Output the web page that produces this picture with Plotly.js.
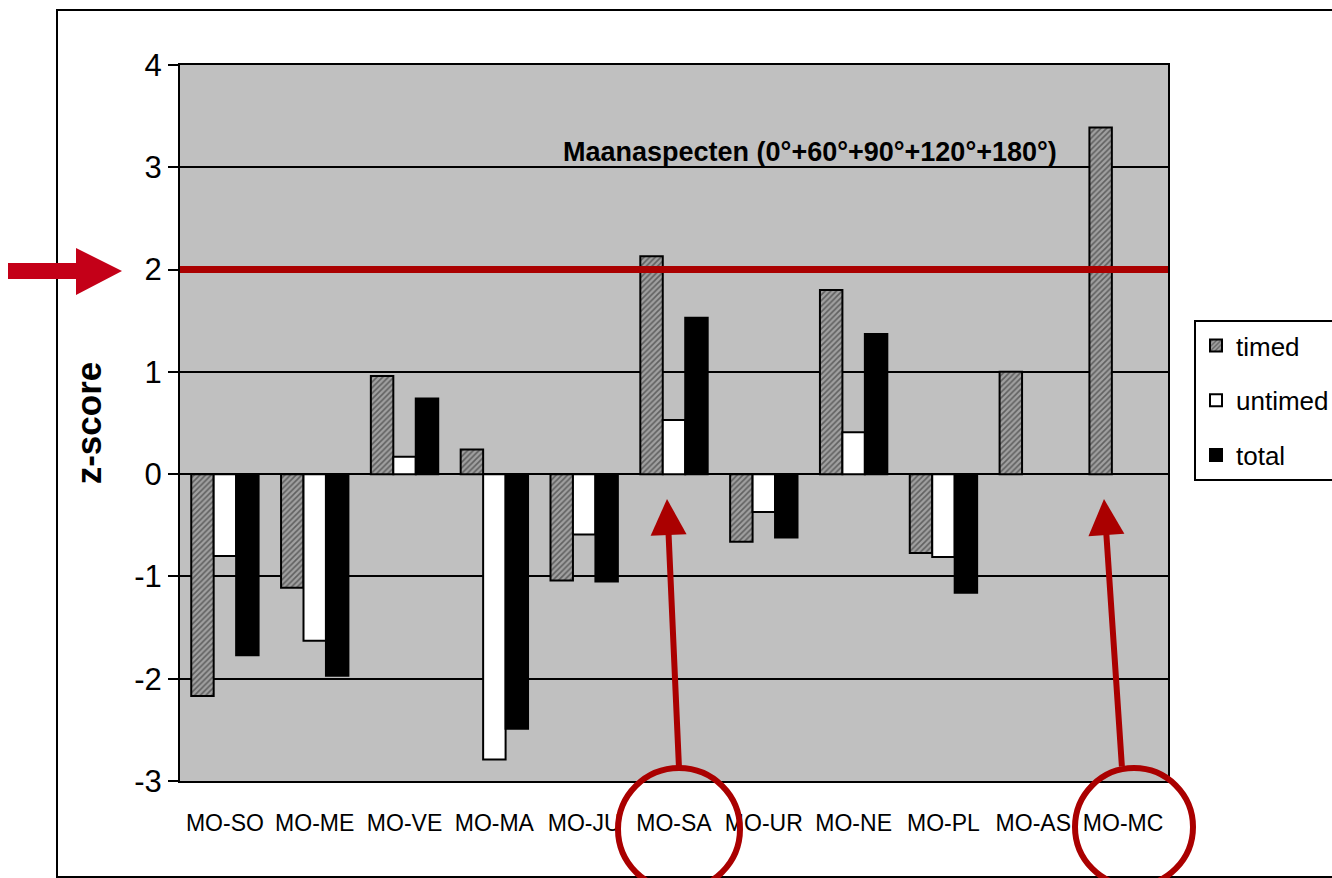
<!DOCTYPE html>
<html>
<head>
<meta charset="utf-8">
<script src="https://cdn.plot.ly/plotly-3.0.1.min.js"></script>
<style>
  html, body { margin: 0; padding: 0; background: #ffffff; }
  #chart { width: 1332px; height: 878px; }
</style>
</head>
<body>
<div id="chart"></div>
<script>
// ---- data ----
const categories = ['MO-SO', 'MO-ME', 'MO-VE', 'MO-MA', 'MO-JU', 'MO-SA', 'MO-UR', 'MO-NE', 'MO-PL', 'MO-AS', 'MO-MC'];
const timed   = [-2.17, -1.11, 0.96, 0.24, -1.04, 2.13, -0.66, 1.80, -0.77, 1.00, 3.39];
const untimed = [-0.80, -1.63, 0.17, -2.79, -0.59, 0.53, -0.37, 0.41, -0.81, null, null];
const total   = [-1.77, -1.97, 0.74, -2.49, -1.05, 1.53, -0.62, 1.37, -1.16, null, null];
const seriesNames = ['timed', 'untimed', 'total'];
const yTickVals = [-3, -2, -1, 0, 1, 2, 3, 4];
const yTickText = ['-3', '-2', '-1', '0', '1', '2', '3', '4'];
const threshold = 2;
const chartTitle = 'Maanaspecten (0°+60°+90°+120°+180°)';
const yTitle = 'z-score';
const highlighted = ['MO-SA', 'MO-MC'];

// ---- layout helpers (pixel -> paper) ----
const M = { l: 180, r: 164, t: 65, b: 97, autoexpand: false };
const FIG_W = 1332, FIG_H = 878;
const PW = FIG_W - M.l - M.r, PH = FIG_H - M.t - M.b;
const px = x => (x - M.l) / PW;
const py = y => (FIG_H - M.b - y) / PH;

const FONT = 'Liberation Sans Narrow, Arial Narrow, Liberation Sans, Arial, sans-serif';
const RED = '#AA0000';
const RED2 = '#C40018';

const boundaries = categories.map((c, i) => i - 0.5).concat([categories.length - 0.5]);

const traces = [
  {
    type: 'bar', name: seriesNames[0], x: categories, y: timed, legendgroup: 'a',
    marker: {
      color: '#8a8a8a',
      line: { color: '#000000', width: 2 },
      pattern: { shape: '/', fgcolor: '#606060', bgcolor: '#a0a0a0', size: 4, solidity: 0.4 }
    }
  },
  {
    type: 'bar', name: seriesNames[1], x: categories, y: untimed, legendgroup: 'b',
    marker: { color: '#ffffff', line: { color: '#000000', width: 2 } }
  },
  {
    type: 'bar', name: seriesNames[2], x: categories, y: total, legendgroup: 'c',
    marker: { color: '#000000', line: { color: '#000000', width: 2 } }
  }
];

// arrow tips / tails & circles (pixel positions of decorations)
const arrowDefs = [
  { tip: [667, 499], tail: [679, 768], circ: [618, 768, 740, 890] },
  { tip: [1104, 499], tail: [1122, 768], circ: [1075, 768, 1193, 886] }
];

const shapes = [
  // outer frame
  { type: 'rect', xref: 'paper', yref: 'paper', x0: px(57), x1: px(1345), y0: py(877), y1: py(10),
    line: { color: '#000000', width: 2 }, fillcolor: 'rgba(0,0,0,0)', layer: 'above' },
  // threshold line
  { type: 'line', xref: 'paper', yref: 'y', x0: 0, x1: 1, y0: threshold, y1: threshold,
    line: { color: RED, width: 7 }, layer: 'above' },
  // left block arrow
  { type: 'path', xref: 'paper', yref: 'paper', layer: 'above',
    path: `M${px(8)},${py(263)} L${px(76)},${py(263)} L${px(76)},${py(248)} L${px(122)},${py(271)} L${px(76)},${py(295)} L${px(76)},${py(279)} L${px(8)},${py(279)} Z`,
    fillcolor: RED2, line: { width: 0 } }
];
arrowDefs.forEach(d => {
  shapes.push({ type: 'circle', xref: 'paper', yref: 'paper', layer: 'above',
    x0: px(d.circ[0]), x1: px(d.circ[2]), y0: py(d.circ[3]), y1: py(d.circ[1]),
    line: { color: RED, width: 6 }, fillcolor: 'rgba(0,0,0,0)' });
});

const annotations = [
  { text: chartTitle, xref: 'paper', yref: 'paper', x: px(810), y: py(152),
    xanchor: 'center', yanchor: 'middle', showarrow: false,
    font: { family: FONT, size: 27, weight: 'bold', color: '#000000' } }
];
arrowDefs.forEach(d => {
  annotations.push({ text: '', xref: 'paper', yref: 'paper', x: px(d.tip[0]), y: py(d.tip[1]),
    axref: 'pixel', ayref: 'pixel', ax: d.tail[0] - d.tip[0], ay: d.tail[1] - d.tip[1],
    showarrow: true, arrowhead: 2, arrowsize: 1.2, arrowwidth: 6, arrowcolor: RED });
});

const layout = {
  width: FIG_W, height: FIG_H,
  margin: M,
  paper_bgcolor: '#ffffff',
  plot_bgcolor: '#c0c0c0',
  font: { family: FONT, color: '#000000' },
  barmode: 'group',
  bargap: 0.25,
  bargroupgap: 0,
  showlegend: true,
  legend: {
    x: px(1194), y: py(320), xanchor: 'left', yanchor: 'top',
    bgcolor: '#ffffff', bordercolor: '#000000', borderwidth: 2,
    font: { family: FONT, size: 26, color: '#000000' },
    tracegroupgap: 18, traceorder: 'grouped',
    entrywidth: 160, entrywidthmode: 'pixels'
  },
  xaxis: {
    type: 'category',
    showline: true, linecolor: '#000000', linewidth: 2, mirror: true,
    showgrid: false, zeroline: false, tickangle: 0, automargin: false,
    ticks: 'outside', ticklen: 20, tickcolor: 'rgba(0,0,0,0)',
    tickfont: { family: FONT, size: 23, color: '#000000' },
    range: [-0.5, categories.length - 0.5]
  },
  xaxis2: {
    overlaying: 'x', anchor: 'free', position: py(474.5),
    range: [-0.5, categories.length - 0.5],
    tickmode: 'array', tickvals: boundaries,
    showticklabels: false, showgrid: false, zeroline: false,
    showline: true, linecolor: '#000000', linewidth: 3,
    ticks: 'outside', ticklen: 9, tickwidth: 3, tickcolor: '#000000'
  },
  yaxis: {
    range: [-3, 4], automargin: false,
    tickmode: 'array', tickvals: yTickVals, ticktext: yTickText,
    showline: true, linecolor: '#000000', linewidth: 2, mirror: true,
    showgrid: true, gridcolor: '#000000', gridwidth: 2,
    zeroline: false,
    ticks: 'outside', ticklen: 10, tickwidth: 2, tickcolor: '#000000',
    tickfont: { family: FONT, size: 31, color: '#000000' },
    title: { text: yTitle, standoff: 22, font: { family: FONT, size: 35, weight: 'bold', color: '#000000' } }
  },
  shapes: shapes,
  annotations: annotations
};

Plotly.newPlot('chart', traces, layout, { displayModeBar: false, staticPlot: true });
</script>
</body>
</html>
